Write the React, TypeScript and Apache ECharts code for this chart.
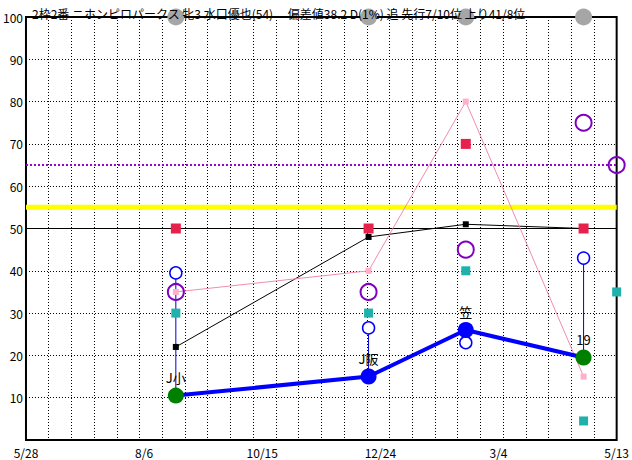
import React, { useEffect, useRef } from "react";
import * as echarts from "echarts";

// ---- data ----
const titleText =
  "2枠2番 ニホンピロパークス 牝3 水口優也(54)　 偏差値38.2 D(1%) 追 先行7/10位 上り41/8位";
const dateLabels = ["5/28", "8/6", "10/15", "12/24", "3/4", "5/13"];
const spanDays = 350;
const labelStepDays = 70;
const gridDivisions = 26;

const raceDays = [88.8, 203, 260.6, 330.4];
const edgeDay = 350;

const blackLine = [22, 48, 51, 50];
const pinkLine = [35, 40, 80, 15];
const redSquares = [50, 50, 70, 50];
const cyanSquares = [30, 30, 40, 4.5];
const cyanEdge = 35;
const purpleCircles = [35, 35, 45, 75];
const purpleEdge = 65;
const blueOpen = [39.5, 26.5, 23, 43];
const mainLine = [10.5, 15, 26, 19.5];
const mainColors = ["#008000", "#0000ff", "#0000ff", "#008000"];
const mainLabels = ["J小", "J阪", "笠", "19"];
const topMarks = [100, 100, 100, 100];

const blackLevel = 50;
const yellowLevel = 55;
const purpleLevel = 65;

const FONT = "'Noto Sans CJK JP', 'Noto Sans', sans-serif";

export default function App() {
  const ref = useRef<HTMLDivElement>(null);

  useEffect(() => {
    document.body.style.margin = "0";
    if (!ref.current) return;
    const chart = echarts.init(ref.current, null, { renderer: "svg" });

    const pts = (vals: number[]) => vals.map((v, i) => [raceDays[i], v]);
    const hline = (lvl: number) => [
      [0, lvl],
      [spanDays, lvl],
    ];

    const option: any = {
      animation: false,
      backgroundColor: "#fff",
      textStyle: { fontFamily: FONT },
      title: {
        text: titleText,
        left: 27,
        top: 2,
        textStyle: {
          fontSize: 12,
          fontWeight: "normal",
          color: "#000",
          fontFamily: FONT,
        },
      },
      grid: {
        left: 25,
        right: 15,
        top: 17,
        bottom: 20,
        show: true,
        borderColor: "#000",
        borderWidth: 2,
        backgroundColor: "#fff",
      },
      xAxis: [
        {
          type: "value",
          min: 0,
          max: spanDays,
          interval: spanDays / gridDivisions,
          axisLine: { show: false },
          axisTick: { show: false },
          axisLabel: { show: false },
          splitLine: {
            show: true,
            lineStyle: { color: "#000", width: 1, type: [1, 2] },
          },
        },
        {
          type: "value",
          min: 0,
          max: spanDays,
          interval: labelStepDays,
          position: "bottom",
          axisLine: { show: false },
          axisTick: { show: false },
          splitLine: { show: false },
          axisLabel: {
            show: true,
            margin: 6,
            color: "#000",
            fontSize: 12,
            fontFamily: FONT,
            formatter: (v: number) =>
              dateLabels[Math.round(v / labelStepDays)] ?? "",
          },
        },
      ],
      yAxis: {
        type: "value",
        min: 0,
        max: 100,
        interval: 10,
        axisLine: { show: false },
        axisTick: { show: false },
        axisLabel: {
          margin: 3,
          color: "#000",
          fontSize: 12,
          fontFamily: FONT,
          formatter: (v: number) => (v === 0 ? "" : String(v)),
        },
        splitLine: {
          show: true,
          lineStyle: { color: "#000", width: 1, type: [1, 2] },
        },
      },
      series: [
        {
          type: "line",
          data: hline(blackLevel),
          symbol: "none",
          silent: true,
          lineStyle: { color: "#000", width: 1 },
        },
        {
          type: "line",
          data: hline(yellowLevel),
          symbol: "none",
          silent: true,
          lineStyle: { color: "#ffff00", width: 5 },
        },
        {
          type: "line",
          data: hline(purpleLevel),
          symbol: "none",
          silent: true,
          lineStyle: { color: "#9900cc", width: 2, type: [2, 2] },
        },
        {
          type: "line",
          data: pts(blackLine),
          symbol: "rect",
          symbolSize: 6,
          itemStyle: { color: "#000" },
          lineStyle: { color: "#000", width: 1 },
        },
        {
          type: "line",
          data: pts(pinkLine),
          symbol: "rect",
          symbolSize: 6,
          itemStyle: { color: "#ffb0c8" },
          lineStyle: { color: "#f08cb0", width: 1 },
        },
        {
          type: "scatter",
          z: 3,
          data: pts(redSquares),
          symbol: "rect",
          symbolSize: 10,
          itemStyle: { color: "#e8204c", opacity: 1 },
        },
        {
          type: "scatter",
          z: 3,
          data: [...pts(cyanSquares), [edgeDay, cyanEdge]],
          symbol: "rect",
          symbolSize: 9,
          clip: false,
          itemStyle: { color: "#20b2aa", opacity: 1 },
        },
        {
          type: "scatter",
          z: 3,
          data: [...pts(purpleCircles), [edgeDay, purpleEdge]],
          symbol: "circle",
          symbolSize: 16,
          clip: false,
          itemStyle: {
            color: "rgba(0,0,0,0)",
            borderColor: "#8000c0",
            borderWidth: 2,
            opacity: 1,
          },
        },
        {
          type: "custom",
          z: 3,
          data: raceDays.map((d, i) => [d, mainLine[i], blueOpen[i]]),
          encode: { x: 0, y: [1, 2] },
          renderItem: (params: any, api: any) => {
            const p1 = api.coord([api.value(0), api.value(1)]);
            const p2 = api.coord([api.value(0), api.value(2)]);
            return {
              type: "line",
              shape: { x1: p1[0], y1: p1[1], x2: p2[0], y2: p2[1] },
              style: { stroke: "#0000cc", lineWidth: 1 },
            };
          },
        },
        {
          type: "scatter",
          z: 3,
          data: pts(blueOpen),
          symbol: "circle",
          symbolSize: 12,
          itemStyle: {
            color: "#fff",
            borderColor: "#0000ff",
            borderWidth: 1.5,
            opacity: 1,
          },
        },
        {
          type: "line",
          z: 4,
          data: raceDays.map((d, i) => ({
            value: [d, mainLine[i]],
            itemStyle: { color: mainColors[i] },
          })),
          symbol: "circle",
          symbolSize: 16,
          lineStyle: { color: "#0000ff", width: 4 },
          itemStyle: { borderWidth: 0 },
          label: {
            show: true,
            position: "top",
            distance: 4,
            color: "#000",
            fontSize: 13,
            fontFamily: FONT,
            formatter: (p: any) => mainLabels[p.dataIndex],
          },
        },
        {
          type: "scatter",
          z: 5,
          data: pts(topMarks),
          symbol: "circle",
          symbolSize: 17,
          clip: false,
          itemStyle: { color: "#a6a6a6", opacity: 1 },
        },
      ],
    };

    chart.setOption(option);
    return () => chart.dispose();
  }, []);

  return <div ref={ref} style={{ width: 632, height: 460 }} />;
}
